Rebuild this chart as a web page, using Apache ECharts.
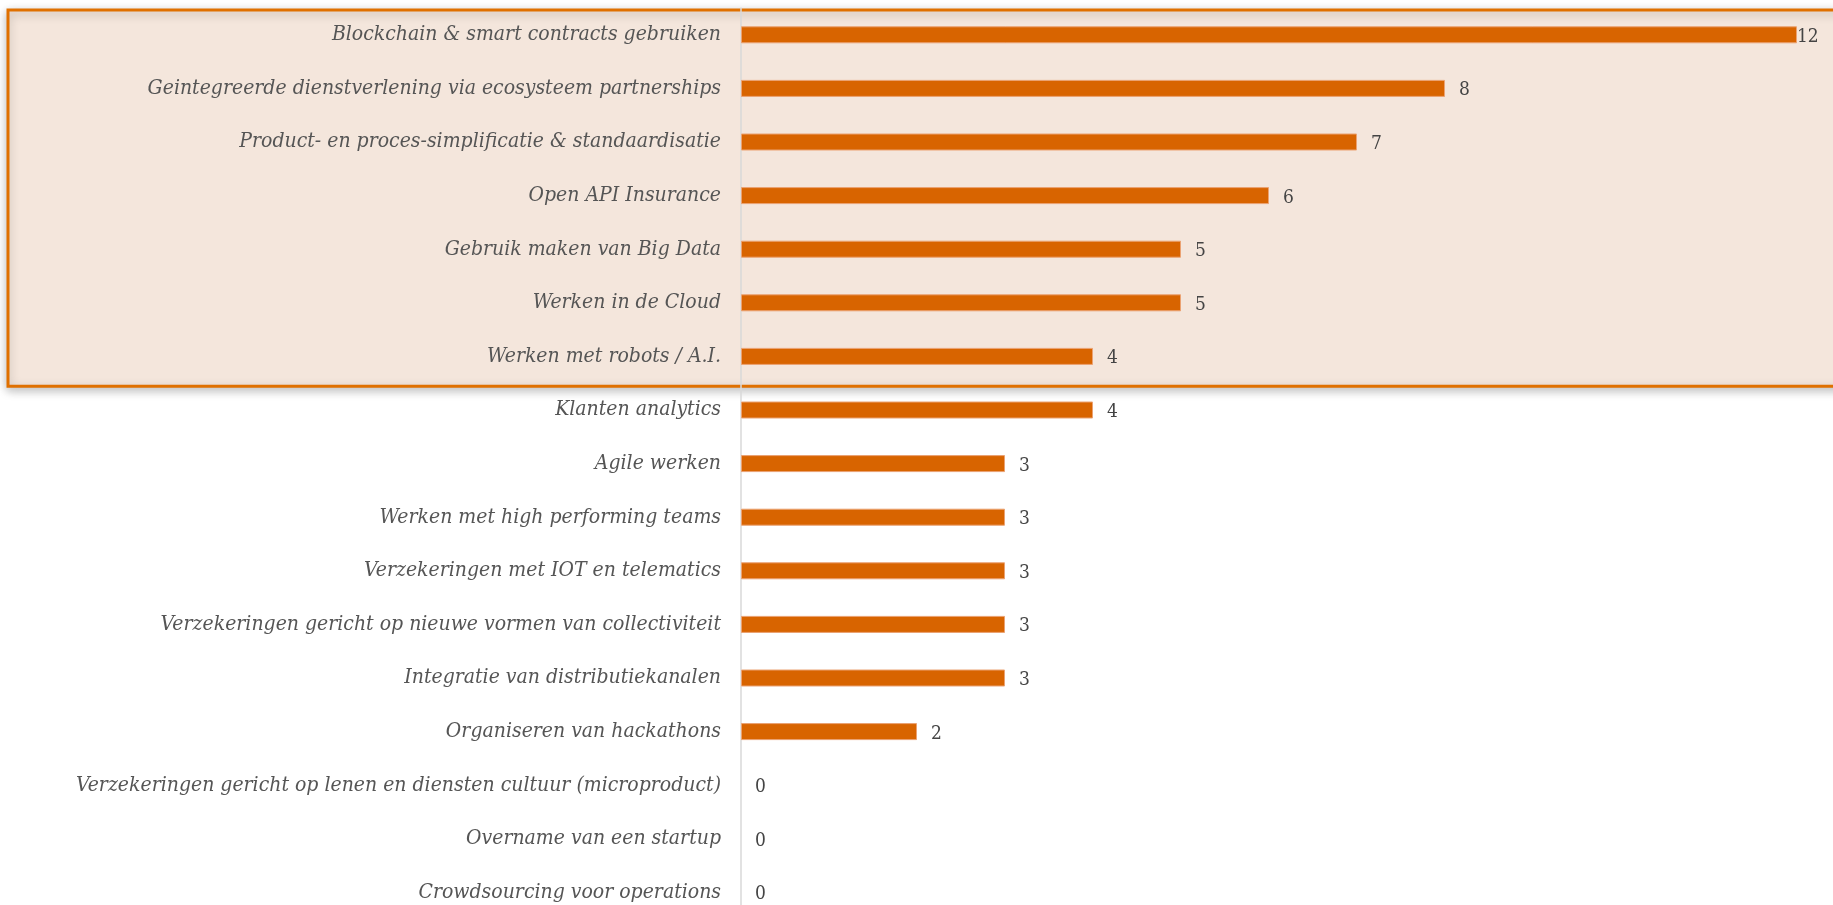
<!DOCTYPE html>
<html><head><meta charset="utf-8">
<script src="https://cdn.jsdelivr.net/npm/echarts@6/dist/echarts.min.js"></script>
<style>html,body{margin:0;padding:0;background:#fff;overflow:hidden;}#c{width:1833px;height:925px;}</style>
</head><body><div id="c"></div>
<script>
const categories = [
  "Blockchain & smart contracts gebruiken",
  "Geintegreerde dienstverlening via ecosysteem partnerships",
  "Product- en proces-simplificatie & standaardisatie",
  "Open API Insurance",
  "Gebruik maken van Big Data",
  "Werken in de Cloud",
  "Werken met robots / A.I.",
  "Klanten analytics",
  "Agile werken",
  "Werken met high performing teams",
  "Verzekeringen met IOT en telematics",
  "Verzekeringen gericht op nieuwe vormen van collectiviteit",
  "Integratie van distributiekanalen",
  "Organiseren van hackathons",
  "Verzekeringen gericht op lenen en diensten cultuur (microproduct)",
  "Overname van een startup",
  "Crowdsourcing voor operations"
];
const values = [12, 8, 7, 6, 5, 5, 4, 4, 3, 3, 3, 3, 3, 2, 0, 0, 0];
const highlightCount = 7;

const chart = echarts.init(document.getElementById('c'));
const serif = "'DejaVu Serif Condensed', 'DejaVu Serif', serif";
const GRID_TOP = 8, BAND = 53.6;
const gridH = BAND * categories.length;
chart.setOption({
  animation: false,
  grid: { left: 741, right: 36, top: GRID_TOP, height: gridH, containLabel: false },
  xAxis: { type: 'value', min: 0, max: 12, show: false, splitLine: { show: false } },
  yAxis: {
    type: 'category', inverse: true, data: categories,
    axisLine: { show: true, lineStyle: { color: '#d9d9d9', width: 1.5 } },
    axisTick: { show: false },
    axisLabel: { margin: 20, padding: [4, 0, 0, 0], fontFamily: serif, fontStyle: 'italic', fontSize: 21, color: '#555555' }
  },
  series: [{
    type: 'bar', z: 3,
    data: values.map((v, i) => {
      if (i === 0) return { value: v, label: { distance: 0 } };
      if (v === 0) return { value: v, itemStyle: { borderWidth: 0 } };
      return v;
    }),
    barWidth: 17,
    itemStyle: { color: '#d86400', borderColor: '#eba272', borderWidth: 1 },
    label: { show: true, position: 'right', distance: 14, offset: [0, 2], fontFamily: serif, fontSize: 19, color: '#444444' }
  }]
});

const top0 = chart.convertToPixel({ yAxisIndex: 0 }, categories[0]) - BAND / 2;
const bot0 = chart.convertToPixel({ yAxisIndex: 0 }, categories[highlightCount - 1]) + BAND / 2;
chart.setOption({
  graphic: [{
    type: 'rect', z: -10, silent: true,
    shape: { x: 8, y: top0 + 2, width: 1900, height: bot0 - top0 + 1 },
    style: { fill: '#f4e6dc', stroke: '#e07000', lineWidth: 3, shadowBlur: 10, shadowColor: 'rgba(0,0,0,0.25)', shadowOffsetY: 3 }
  }]
});
</script></body></html>
